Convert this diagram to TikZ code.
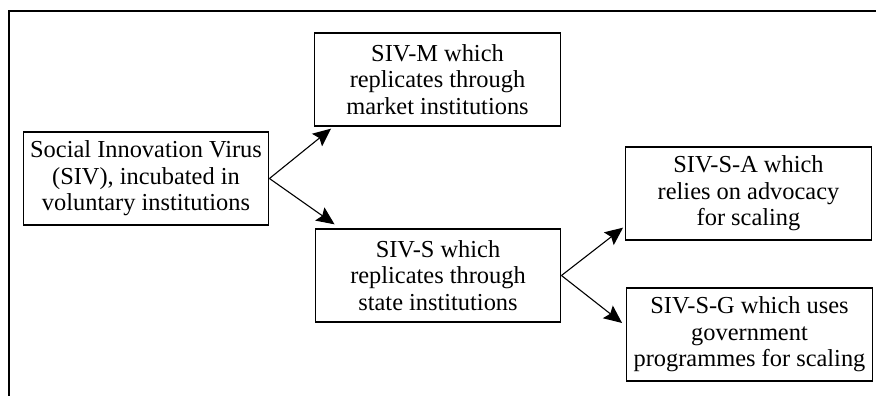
\documentclass[tikz,border=0pt]{standalone}
\usepackage{fontspec}
\setmainfont{Liberation Serif}
\usetikzlibrary{arrows.meta,positioning,calc}

\begin{document}
\begin{tikzpicture}[x=0.5pt,y=-0.5pt,
  box/.style={draw,line width=0.65pt,align=center,inner sep=0pt,minimum width=122.8pt,minimum height=46.5pt,font=\fontsize{12.2}{13.3}\selectfont},
  pfeil/.style={line width=0.55pt,-{Stealth[length=9pt,width=8pt,inset=1.5pt]}}]
\useasboundingbox (0,0) rectangle (876,396);
%Rahmen, rechts und unten offen
\draw[line width=0.75pt] (876,11) -- (9,11) -- (9,396);
\node[box] (siv) at (146,178.5) {Social Innovation Virus\\(SIV), incubated in\\voluntary institutions};
\node[box] (sivm) at (437.5,79.5) {SIV-M which\\replicates through\\market institutions};
\node[box] (sivs) at (438,275.5) {SIV-S which\\replicates through\\state institutions};
\node[box] (siva) at (748.5,193.5) {SIV-S-A which\\relies on advocacy\\for scaling};
\node[box] (sivg) at (749.5,334.5) {SIV-S-G which uses\\government\\programmes for scaling};
%Pfeilspitzen knapp neben den Ecken
\coordinate (zm) at ($(sivm.south west)+(17,2)$);
\coordinate (zs) at ($(sivs.north west)+(20,-4)$);
\coordinate (za) at ($(siva.south west)+(-2,-13)$);
\coordinate (zg) at ($(sivg.west)+(-4,-11.5)$);
\draw[pfeil] (siv.east) -- (zm);
\draw[pfeil] (siv.east) -- (zs);
\draw[pfeil] (sivs.east) -- (za);
\draw[pfeil] (sivs.east) -- (zg);
\end{tikzpicture}
\end{document}
